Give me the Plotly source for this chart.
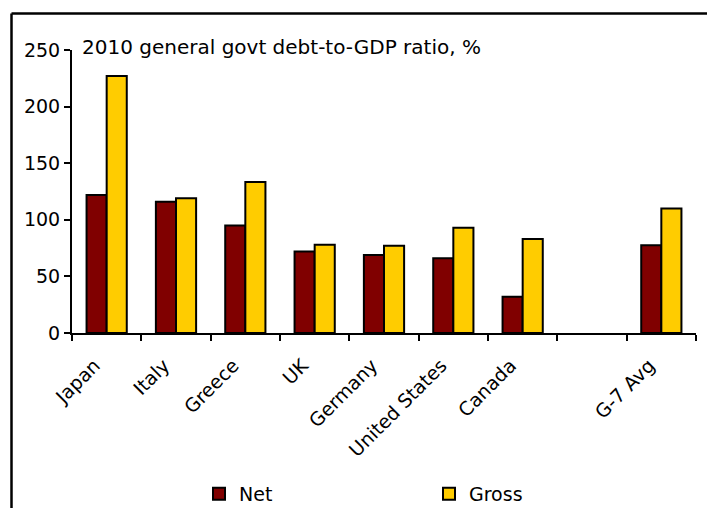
import plotly.graph_objects as go

categories = ["Japan", "Italy", "Greece", "UK", "Germany", "United States", "Canada", " ", "G-7 Avg"]
net_values = [122, 116, 95, 72, 69, 66, 32, None, 77.5]
gross_values = [227, 119, 133.5, 78, 77, 93, 83, None, 110]
y_ticks = [0, 50, 100, 150, 200, 250]

FONT = "DejaVu Sans"

fig = go.Figure()
fig.add_trace(go.Bar(x=categories, y=net_values, name="Net",
                     marker=dict(color="#800000", line=dict(color="black", width=2))))
fig.add_trace(go.Bar(x=categories, y=gross_values, name="Gross",
                     marker=dict(color="#FFCC00", line=dict(color="black", width=2))))

W, H = 707, 508
L, R, T, B = 72, 11, 50, 175
pw, ph = W - L - R, H - T - B

def px(x):
    return (x - L) / pw

def py(y):
    return (H - B - y) / ph

fig.update_layout(
    width=W, height=H,
    margin=dict(l=L, r=R, t=T, b=B, autoexpand=False),
    paper_bgcolor="white", plot_bgcolor="white",
    barmode="group", bargap=0.42, bargroupgap=0,
    font=dict(family=FONT, size=19, color="black"),
    showlegend=True,
    legend=dict(orientation="h", x=px(199), xanchor="left", y=py(475), yanchor="top",
                font=dict(size=19), entrywidth=185, bgcolor="rgba(0,0,0,0)"),
    xaxis=dict(type="category", showline=True, linecolor="black", linewidth=2,
               ticks="outside", ticklen=6, tickwidth=2, tickcolor="black",
               tickson="boundaries", tickangle=-45, showgrid=False,
               ticklabelstandoff=12, ticklabelshift=-12,
               tickfont=dict(size=19), range=[-0.5, 8.5]),
    yaxis=dict(range=[0, 250], tickvals=y_ticks, showline=True, linecolor="black",
               linewidth=2, ticks="outside", ticklen=6, tickwidth=2, tickcolor="black",
               showgrid=False, zeroline=False, tickfont=dict(size=19)),
    annotations=[dict(text="2010 general govt debt-to-GDP ratio, %", x=px(80), y=py(47),
                      xref="paper", yref="paper", xanchor="left", yanchor="middle",
                      showarrow=False, font=dict(size=20))],
    shapes=[
        dict(type="line", xref="paper", yref="paper", x0=px(11.5), x1=px(708),
             y0=py(13.5), y1=py(13.5), line=dict(color="black", width=2.5)),
        dict(type="line", xref="paper", yref="paper", x0=px(11.5), x1=px(11.5),
             y0=py(13.5), y1=py(510), line=dict(color="black", width=2.5)),
    ],
)

fig.write_html("out.html")
